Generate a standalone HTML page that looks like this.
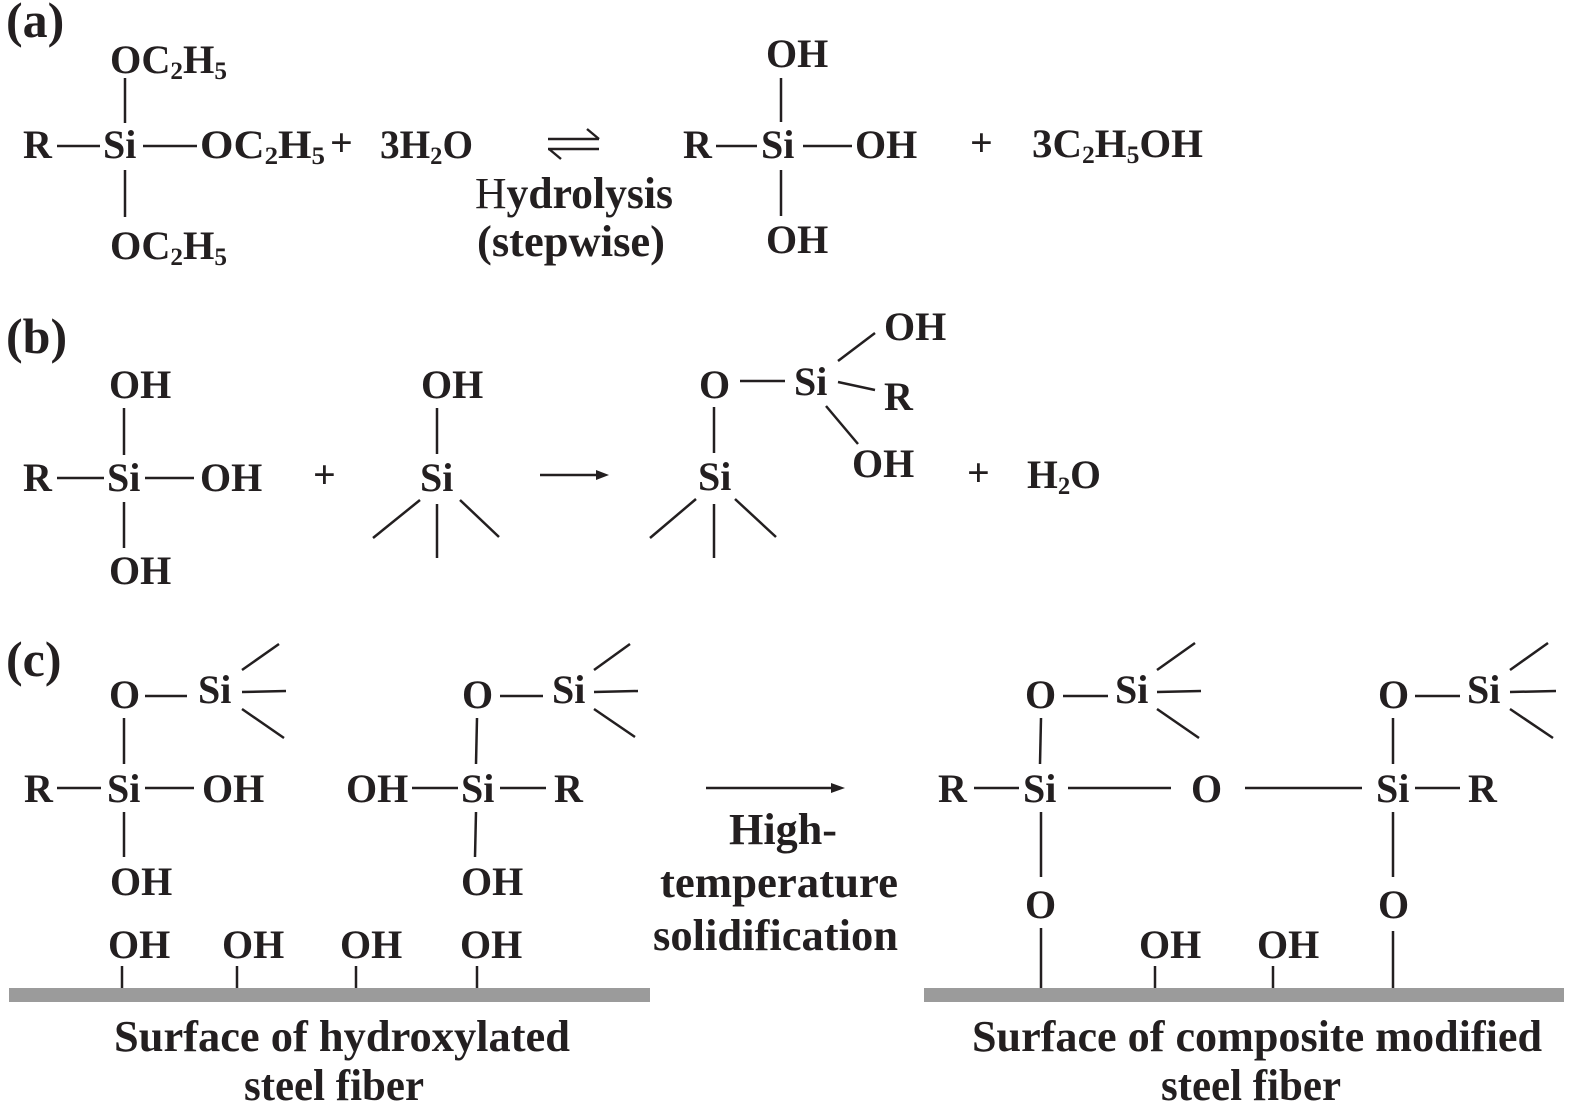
<!DOCTYPE html>
<html><head><meta charset="utf-8"><style>
html,body{margin:0;padding:0;background:#fff;}
svg{display:block;}
text{font-family:"Liberation Serif",serif;font-weight:bold;fill:#231f20;font-size:40px;}
.s{font-size:25px;}
.l{font-size:44px;}
.p{font-size:50px;}
line{stroke:#231f20;stroke-width:2.5;}
.t{stroke-width:2.4;}
</style></head><body>
<svg width="1575" height="1108" viewBox="0 0 1575 1108" xmlns="http://www.w3.org/2000/svg">
<!-- ===== (a) ===== -->
<text class="p" x="6" y="37">(a)</text>
<text x="110" y="73" textLength="117" lengthAdjust="spacingAndGlyphs">OC<tspan class="s" dy="6">2</tspan><tspan dy="-6">H</tspan><tspan class="s" dy="6">5</tspan></text>
<line x1="125" y1="78" x2="125" y2="123"/>
<text x="23" y="158">R</text>
<line x1="57" y1="146" x2="100" y2="146"/>
<text x="103" y="158">Si</text>
<line x1="143" y1="146" x2="197" y2="146"/>
<text x="200" y="158" textLength="125" lengthAdjust="spacingAndGlyphs">OC<tspan class="s" dy="6">2</tspan><tspan dy="-6">H</tspan><tspan class="s" dy="6">5</tspan></text>
<text x="330" y="156">+</text>
<text x="380" y="158" textLength="93" lengthAdjust="spacingAndGlyphs">3H<tspan class="s" dy="6">2</tspan><tspan dy="-6">O</tspan></text>
<line x1="125" y1="170" x2="125" y2="217"/>
<text x="110" y="259" textLength="117" lengthAdjust="spacingAndGlyphs">OC<tspan class="s" dy="6">2</tspan><tspan dy="-6">H</tspan><tspan class="s" dy="6">5</tspan></text>
<!-- equilibrium arrows -->
<line class="t" x1="548" y1="139" x2="599" y2="139"/>
<line class="t" x1="599" y1="139" x2="587" y2="129"/>
<line class="t" x1="548" y1="149" x2="599" y2="149"/>
<line class="t" x1="549" y1="149" x2="561" y2="159"/>
<text class="l" x="475" y="208" textLength="198" lengthAdjust="spacingAndGlyphs"><tspan font-weight="normal">H</tspan>ydrolysis</text>
<text class="l" x="477" y="256" textLength="188" lengthAdjust="spacingAndGlyphs">(stepwise)</text>
<!-- right molecule -->
<text x="766" y="67">OH</text>
<line x1="781" y1="78" x2="781" y2="122"/>
<text x="683" y="158">R</text>
<line x1="716" y1="146" x2="757" y2="146"/>
<text x="761" y="158">Si</text>
<line x1="803" y1="146" x2="852" y2="146"/>
<text x="855" y="158">OH</text>
<line x1="781" y1="170" x2="781" y2="216"/>
<text x="766" y="253">OH</text>
<text x="970" y="156">+</text>
<text x="1032" y="157" textLength="171" lengthAdjust="spacingAndGlyphs">3C<tspan class="s" dy="6">2</tspan><tspan dy="-6">H</tspan><tspan class="s" dy="6">5</tspan><tspan dy="-6">OH</tspan></text>

<!-- ===== (b) ===== -->
<text class="p" x="6" y="353">(b)</text>
<text x="109" y="398">OH</text>
<line x1="124" y1="408" x2="124" y2="455"/>
<text x="23" y="491">R</text>
<line x1="57" y1="478" x2="104" y2="478"/>
<text x="107" y="491">Si</text>
<line x1="145" y1="478" x2="194" y2="478"/>
<text x="200" y="491">OH</text>
<line x1="124" y1="502" x2="124" y2="548"/>
<text x="109" y="584">OH</text>
<text x="313" y="488">+</text>
<!-- middle -->
<text x="421" y="398">OH</text>
<line x1="437" y1="408" x2="437" y2="454"/>
<text x="420" y="491">Si</text>
<line x1="420" y1="500" x2="373" y2="538"/>
<line x1="437" y1="504" x2="437" y2="558"/>
<line x1="460" y1="500" x2="499" y2="537"/>
<!-- arrow -->
<line x1="540" y1="475" x2="598" y2="475"/>
<polygon points="596,470 609,475 596,480" fill="#231f20"/>
<!-- product -->
<text x="699" y="398">O</text>
<line x1="740" y1="381" x2="785" y2="381"/>
<text x="794" y="395">Si</text>
<line x1="838" y1="361" x2="875" y2="333"/>
<text x="884" y="340">OH</text>
<line x1="838" y1="382" x2="875" y2="390"/>
<text x="884" y="410">R</text>
<line x1="826" y1="406" x2="858" y2="444"/>
<text x="852" y="477">OH</text>
<line x1="714" y1="407" x2="714" y2="453"/>
<text x="698" y="490">Si</text>
<line x1="696" y1="499" x2="650" y2="538"/>
<line x1="714" y1="504" x2="714" y2="558"/>
<line x1="735" y1="499" x2="776" y2="537"/>
<text x="967" y="486">+</text>
<text x="1027" y="488" textLength="74" lengthAdjust="spacingAndGlyphs">H<tspan class="s" dy="6">2</tspan><tspan dy="-6">O</tspan></text>

<!-- ===== (c) ===== -->
<text class="p" x="6" y="676">(c)</text>
<!-- left group -->
<text x="109" y="708">O</text>
<line x1="145" y1="696" x2="187" y2="696"/>
<text x="198" y="703">Si</text>
<line x1="242" y1="670" x2="279" y2="644"/>
<line x1="242" y1="692" x2="286" y2="691"/>
<line x1="242" y1="709" x2="284" y2="738"/>
<line x1="124" y1="718" x2="124" y2="764"/>
<text x="24" y="802">R</text>
<line x1="57" y1="788" x2="101" y2="788"/>
<text x="107" y="802">Si</text>
<line x1="145" y1="788" x2="194" y2="788"/>
<text x="202" y="802">OH</text>
<line x1="124" y1="812" x2="124" y2="857"/>
<text x="110" y="895">OH</text>
<!-- right group -->
<text x="462" y="708">O</text>
<line x1="500" y1="696" x2="543" y2="696"/>
<text x="552" y="703">Si</text>
<line x1="594" y1="670" x2="630" y2="644"/>
<line x1="594" y1="692" x2="638" y2="691"/>
<line x1="594" y1="709" x2="635" y2="737"/>
<line x1="477" y1="718" x2="476" y2="764"/>
<text x="346" y="802">OH</text>
<line x1="412" y1="788" x2="458" y2="788"/>
<text x="461" y="802">Si</text>
<line x1="500" y1="788" x2="546" y2="788"/>
<text x="554" y="802">R</text>
<line x1="476" y1="812" x2="475" y2="857"/>
<text x="461" y="895">OH</text>
<!-- surface left -->
<text x="108" y="958">OH</text>
<text x="222" y="958">OH</text>
<text x="340" y="958">OH</text>
<text x="460" y="958">OH</text>
<line x1="122" y1="966" x2="122" y2="989"/>
<line x1="237" y1="966" x2="237" y2="989"/>
<line x1="356" y1="966" x2="356" y2="989"/>
<line x1="477" y1="966" x2="477" y2="989"/>
<rect x="9" y="988" width="641" height="14" fill="#9b9b9b"/>
<text class="l" x="114" y="1051" textLength="456" lengthAdjust="spacingAndGlyphs">Surface of hydroxylated</text>
<text class="l" x="244" y="1100" textLength="180" lengthAdjust="spacingAndGlyphs">steel fiber</text>
<!-- arrow c -->
<line x1="706" y1="788" x2="833" y2="788"/>
<polygon points="831,783 845,788 831,793" fill="#231f20"/>
<text class="l" x="729" y="844" textLength="108" lengthAdjust="spacingAndGlyphs">High-</text>
<text class="l" x="660" y="897" textLength="238" lengthAdjust="spacingAndGlyphs">temperature</text>
<text class="l" x="653" y="950" textLength="245" lengthAdjust="spacingAndGlyphs">solidification</text>
<!-- composite -->
<text x="1025" y="708">O</text>
<line x1="1063" y1="696" x2="1108" y2="696"/>
<text x="1115" y="703">Si</text>
<line x1="1157" y1="670" x2="1195" y2="643"/>
<line x1="1157" y1="692" x2="1201" y2="691"/>
<line x1="1157" y1="709" x2="1199" y2="738"/>
<line x1="1041" y1="718" x2="1040" y2="764"/>
<text x="938" y="802">R</text>
<line x1="974" y1="788" x2="1019" y2="788"/>
<text x="1023" y="802">Si</text>
<line x1="1068" y1="788" x2="1171" y2="788"/>
<text x="1191" y="802">O</text>
<line x1="1245" y1="788" x2="1362" y2="788"/>
<text x="1376" y="802">Si</text>
<line x1="1415" y1="788" x2="1460" y2="788"/>
<text x="1468" y="802">R</text>
<line x1="1041" y1="812" x2="1041" y2="877"/>
<text x="1025" y="918">O</text>
<line x1="1041" y1="928" x2="1041" y2="989"/>

<text x="1378" y="708">O</text>
<line x1="1415" y1="696" x2="1460" y2="696"/>
<text x="1467" y="703">Si</text>
<line x1="1510" y1="670" x2="1548" y2="643"/>
<line x1="1510" y1="692" x2="1556" y2="691"/>
<line x1="1510" y1="709" x2="1553" y2="738"/>
<line x1="1393" y1="718" x2="1393" y2="764"/>
<line x1="1393" y1="812" x2="1393" y2="877"/>
<text x="1378" y="918">O</text>
<line x1="1393" y1="931" x2="1393" y2="991"/>

<text x="1139" y="958">OH</text>
<text x="1257" y="958">OH</text>
<line x1="1155" y1="966" x2="1155" y2="989"/>
<line x1="1273" y1="966" x2="1273" y2="989"/>
<rect x="924" y="988" width="640" height="14" fill="#9b9b9b"/>
<text class="l" x="972" y="1051" textLength="570" lengthAdjust="spacingAndGlyphs">Surface of composite modified</text>
<text class="l" x="1161" y="1100" textLength="180" lengthAdjust="spacingAndGlyphs">steel fiber</text>
</svg>
</body></html>
